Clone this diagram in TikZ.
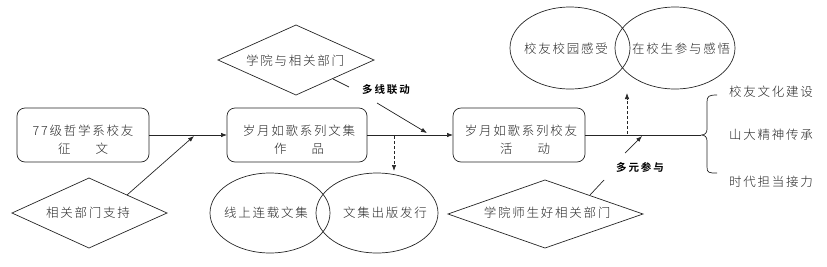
\documentclass[tikz,border=0pt]{standalone}
\usepackage{fontspec}
\newfontfamily\cjk[LetterSpace=14]{Noto Sans CJK SC Light}
\newfontfamily\cjkb[LetterSpace=18]{Noto Sans CJK SC Bold}
\usetikzlibrary{arrows.meta,shapes.geometric}
\tikzset{
  ln/.style={draw=black!85, line width=0.7pt},
  arr/.style={ln, -{Latex[length=6pt,width=4.5pt]}},
  darr/.style={arr, densely dashed},
  rbox/.style={ln, rounded corners=8pt},
  txt/.style={font=\cjk\fontsize{12.5}{14}\selectfont, text=black!85, inner sep=0pt},
  lbl/.style={font=\cjkb\fontsize{10.5}{12}\selectfont, text=black, inner sep=0pt},
}
\begin{document}
\begin{tikzpicture}[x=1pt,y=-1pt]
\useasboundingbox (0,0) rectangle (827,266);
% boxes
\draw[rbox] (17,108) rectangle (149,162);
\coordinate (b1e) at (149,135);
\draw[rbox] (227,108) rectangle (367,162);
\coordinate (b2w) at (227,135);
\coordinate (b2e) at (367,135);
\draw[rbox] (453,108) rectangle (585,162);
\coordinate (b3w) at (453,135);
\coordinate (b3e) at (585,135);
\node[txt] (t1a) at (83,131) {77级哲学系校友};
\node[txt] (t1b) at (83,149) {征\hspace{2em}文};
\node[txt] (t2a) at (299,131) {岁月如歌系列文集};
\node[txt] (t2b) at (299,149) {作\hspace{2em}品};
\node[txt] (t3a) at (521,131) {岁月如歌系列校友};
\node[txt] (t3b) at (525,149) {活\hspace{2em}动};
% diamonds
\draw[ln] (12,213) -- (89,178) -- (167,213) -- (89,248) -- cycle;
\node[txt] (d1) at (88,213) {相关部门支持};
\draw[ln] (218,60) -- (296,25) -- (374,60) -- (296,95) -- cycle;
\node[txt] (d2) at (295,61) {学院与相关部门};
\draw[ln] (448,214) -- (545,180) -- (643,214) -- (545,248) -- cycle;
\node[txt] (d3) at (547,213) {学院师生好相关部门};
% ellipses
\draw[ln] (270,213) ellipse [x radius=60, y radius=40];
\draw[ln] (377,213) ellipse [x radius=61, y radius=40];
\node[txt] (e1) at (266,213) {线上连载文集};
\node[txt] (e2) at (385,213) {文集出版发行};
\draw[ln] (570,48) ellipse [x radius=60, y radius=41];
\draw[ln] (675,48) ellipse [x radius=60, y radius=41];
\node[txt] (e3) at (566,49) {校友校园感受};
\node[txt] (e4) at (681,49) {在校生参与感悟};
% main line
\coordinate (m1) at (195,135);
\coordinate (m2) at (427,135);
\coordinate (m3) at (642,135);
\coordinate (bm) at (701,135);
\draw[arr] (b1e) -- (b2w);
\draw[arr] (b2e) -- (b3w);
\draw[ln] (b3e) -- (bm);
% support arrow
\coordinate (s1) at (127,195);
\draw[arr] (s1) -- (194,136);
% multi-line arrow
\coordinate (p1) at (333,79);
\coordinate (p2) at (349,87);
\coordinate (p3) at (377,103);
\draw[ln] (p1) -- (p2);
\node[lbl] (L1) at (386,90) {多线联动};
\draw[arr] (p3) -- (427,133);
% dashed arrows
\coordinate (q1) at (394,136);
\draw[darr] (q1) -- (394,171);
\coordinate (q2) at (627,134);
\draw[darr] (q2) -- (627,93);
% multi participation
\coordinate (r1) at (590,195);
\coordinate (r2) at (604,180);
\coordinate (r3) at (625,153);
\draw[ln] (r1) -- (r2);
\node[lbl] (L2) at (640,167) {多元参与};
\draw[arr] (r3) -- (642,136);
% brace
\draw[ln] (717,95) .. controls (709,95) and (707,96) .. (707,102) -- (707,129)
  .. controls (707,133) and (705,135) .. (bm)
  (bm) .. controls (705,135) and (707,137) .. (707,141) -- (707,167)
  .. controls (707,173) and (709,173) .. (717,173);
\node[txt] (r1t) at (771,92) {校友文化建设};
\node[txt] (r2t) at (771,135) {山大精神传承};
\node[txt] (r3t) at (771,182) {时代担当接力};
\end{tikzpicture}
\end{document}
